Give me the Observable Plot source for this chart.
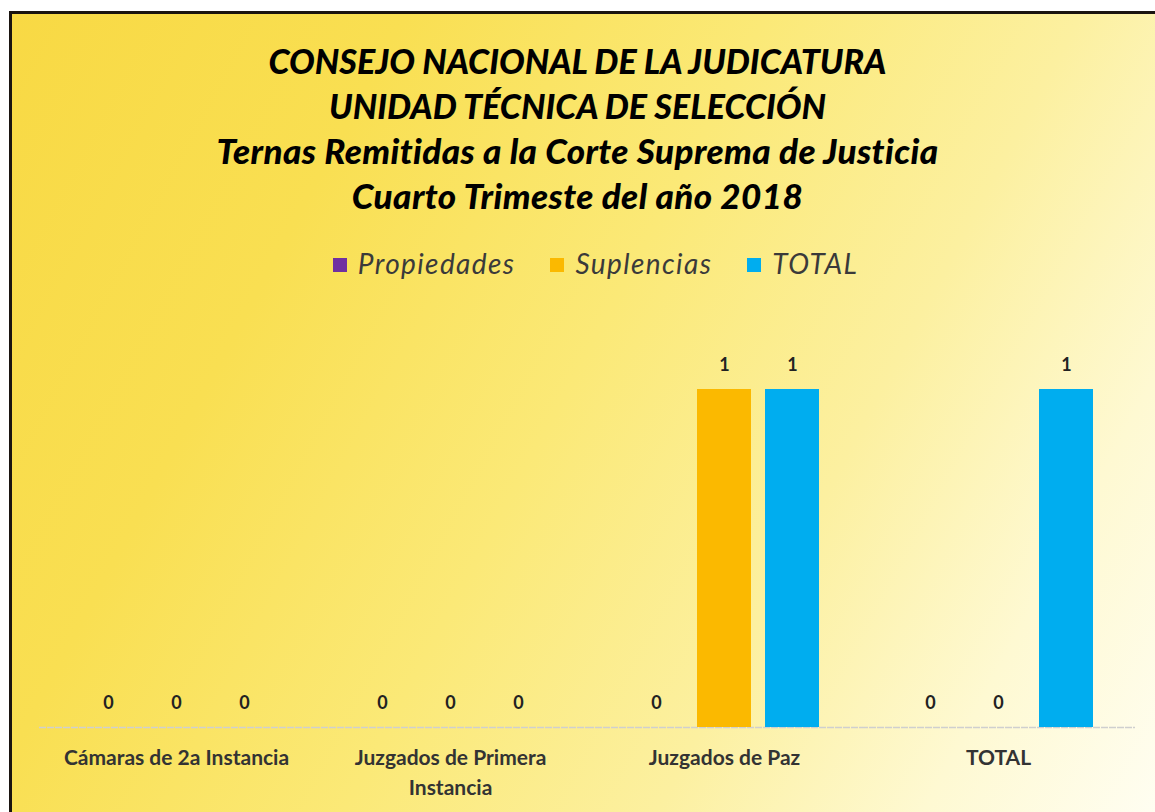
<!DOCTYPE html>
<html><head><meta charset="utf-8">
<script src="https://cdn.jsdelivr.net/npm/d3@7"></script>
<script src="https://cdn.jsdelivr.net/npm/@observablehq/plot@0.6"></script>
<style>
html,body{margin:0;padding:0;background:#fff;width:1155px;height:812px;overflow:hidden;}
#frame{position:absolute;left:9px;top:11px;width:1146px;height:801px;border-top:3px solid #1a1410;border-left:3px solid #1a1410;
 background:linear-gradient(118deg,#f8d944 0%,#f9df52 25%,#fbe977 48%,#fcf0a0 68%,#fef9d2 85%,#fffef2 100%);}
#title{position:absolute;left:0;top:38px;width:1155px;text-align:center;font-family:Lato,sans-serif;font-weight:900;font-style:italic;color:#000;}
#title div{height:45px;line-height:45px;}
#legend{position:absolute;left:18px;top:246px;width:1155px;display:flex;justify-content:center;gap:35px;font-family:Lato,sans-serif;font-style:italic;font-size:28px;color:#3a3a3a;letter-spacing:1.4px}
#legend span.sw{display:inline-block;width:14px;height:14px;margin-right:11px;vertical-align:2px}
#chart{position:absolute;left:0;top:300px}
</style></head>
<body>
<div id="frame"></div>
<div id="title"></div>
<div id="legend"></div>
<div id="chart"></div>
<script>
const titleLines = ["CONSEJO NACIONAL DE LA JUDICATURA","UNIDAD TÉCNICA DE SELECCIÓN","Ternas Remitidas a la Corte Suprema de Justicia","Cuarto Trimeste del año 2018"];
const categories = ["Cámaras de 2a Instancia","Juzgados de Primera Instancia","Juzgados de Paz","TOTAL"];
const seriesNames = ["Propiedades","Suplencias","TOTAL"];
const seriesColors = ["#7030a0","#fbb900","#00adef"];
const propiedades = [0,0,0,0];
const suplencias = [0,0,1,0];
const total = [0,0,1,1];

const titleStyles = ["font-size:34px","font-size:34px","font-size:35px;letter-spacing:0.4px","font-size:35px;letter-spacing:0.4px"];
document.getElementById("title").innerHTML = titleLines.map((t,i)=>`<div style="${titleStyles[i]}">${t}</div>`).join("");
document.getElementById("legend").innerHTML = seriesNames.map((s,i)=>`<div><span class="sw" style="background:${seriesColors[i]}"></span>${s}</div>`).join("");

const values = [propiedades, suplencias, total];
const data = [];
categories.forEach((c,ci)=>seriesNames.forEach((s,si)=>data.push({cat:c, series:s, value:values[si][ci]})));

const chart = Plot.plot({
  width:1155, height:512,
  marginLeft:38, marginRight:20, marginTop:89, marginBottom:85,
  style:{background:"transparent", fontFamily:"Lato, sans-serif"},
  fx:{domain:categories, padding:0, label:null},
  x:{domain:seriesNames, paddingInner:0.21, paddingOuter:0.6, axis:null},
  y:{domain:[0,1], axis:null},
  color:{domain:seriesNames, range:seriesColors},
  marks:[
    Plot.ruleY([0], {stroke:"#cfcfcf", strokeWidth:1.5, strokeDasharray:"7,1"}),
    Plot.barY(data, {fx:"cat", x:"series", y:"value", fill:"series"}),
    Plot.text(data, {fx:"cat", x:"series", y:"value", text:d=>String(d.value), dy:-24, fontSize:18, fontWeight:"bold", fill:"#222"}),
    Plot.axisFx({anchor:"bottom", tickSize:0, tickPadding:16, fontSize:21, fontWeight:"bold", fill:"#333", letterSpacing:"1.4px", lineWidth:12, lineHeight:1.43, label:null})
  ]
});
document.getElementById("chart").appendChild(chart);
</script>
</body></html>
